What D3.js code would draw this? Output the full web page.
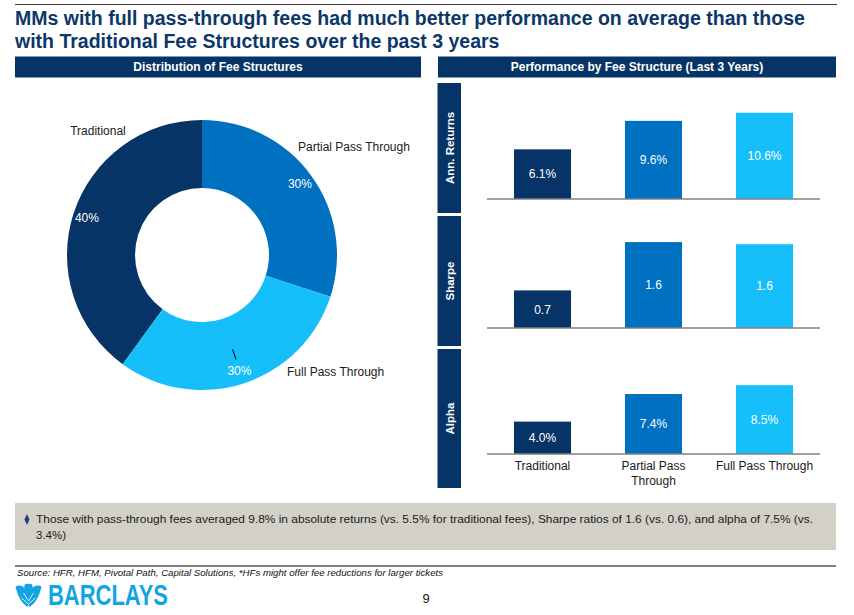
<!DOCTYPE html>
<html>
<head>
<meta charset="utf-8">
<script src="https://cdn.jsdelivr.net/npm/d3@7"></script>
<style>
  html, body { margin: 0; padding: 0; background: #ffffff; }
  svg { display: block; font-family: "Liberation Sans", Arial, sans-serif; }
</style>
</head>
<body>
<svg id="chart" width="854" height="615"></svg>
<script>
// ---------------- DATA ----------------
const categories = ["Traditional", "Partial Pass Through", "Full Pass Through"];
const shares = [40, 30, 30];                 // % of managers
const metricNames = ["Ann. Returns", "Sharpe", "Alpha"];
const annReturns = [6.1, 9.6, 10.6];          // %
const sharpe = [0.70, 1.60, 1.56];
const alpha = [4.0, 7.4, 8.5];                // %
const titleLines = [
  "MMs with full pass-through fees had much better performance on average than those",
  "with Traditional Fee Structures over the past 3 years"
];
const leftHeader = "Distribution of Fee Structures";
const rightHeader = "Performance by Fee Structure (Last 3 Years)";
const bulletLines = [
  "Those with pass-through fees averaged 9.8% in absolute returns (vs. 5.5% for traditional fees), Sharpe ratios of 1.6 (vs. 0.6), and alpha of 7.5% (vs.",
  "3.4%)"
];
const sourceText = "Source: HFR, HFM, Pivotal Path, Capital Solutions, *HFs might offer fee reductions for larger tickets";
const pageNumber = "9";

// ---------------- STYLE ----------------
const navy = "#063466";
const colors = ["#063466", "#0070c0", "#16bff9"];
const color = d3.scaleOrdinal().domain(categories).range(colors);

const svg = d3.select("#chart");

// top rule
svg.append("line").attr("x1", 15).attr("x2", 837).attr("y1", 4.5).attr("y2", 4.5)
  .attr("stroke", "#3a3a3a").attr("stroke-width", 1);

// title
svg.append("g").selectAll("text").data(titleLines).join("text")
  .attr("x", 15).attr("y", (d, i) => 25 + i * 22.5)
  .attr("font-size", 19.5).attr("font-weight", "bold").attr("fill", "#0c3768")
  .text(d => d);

// section headers
const headers = [
  { text: leftHeader, x0: 15, x1: 421 },
  { text: rightHeader, x0: 438, x1: 836 }
];
const hg = svg.append("g").selectAll("g").data(headers).join("g");
hg.append("rect").attr("x", d => d.x0).attr("y", 56.5).attr("width", d => d.x1 - d.x0).attr("height", 21)
  .attr("fill", navy);
hg.append("text").attr("x", d => (d.x0 + d.x1) / 2).attr("y", 71.2)
  .attr("text-anchor", "middle").attr("font-size", 12).attr("font-weight", "bold").attr("fill", "#fff")
  .text(d => d.text);

// ---------------- DONUT ----------------
const cx = 202, cy = 255, rOuter = 135, rInner = 67;
const pieData = categories.map((c, i) => ({ cat: c, value: shares[i] }));
const startA = -2 * Math.PI * shares[0] / 100;
const pie = d3.pie().value(d => d.value).sort(null).startAngle(startA).endAngle(startA + 2 * Math.PI);
const arcs = pie(pieData);
const arc = d3.arc().innerRadius(rInner).outerRadius(rOuter);
const labelArc = d3.arc().innerRadius(121).outerRadius(121);

const dg = svg.append("g").attr("transform", `translate(${cx},${cy})`);
dg.selectAll("path").data(arcs).join("path")
  .attr("d", arc).attr("fill", d => color(d.data.cat));

dg.selectAll("text.pct").data(arcs).join("text").attr("class", "pct")
  .attr("x", d => labelArc.centroid(d)[0]).attr("y", d => labelArc.centroid(d)[1] + 4.5)
  .attr("text-anchor", "middle").attr("font-size", 12).attr("fill", "#fff")
  .text(d => d.data.value + "%");

// category label placement (layout, relative to donut centre)
const catPos = {
  "Traditional": [-104, -120, "middle"],
  "Partial Pass Through": [96, -104, "start"],
  "Full Pass Through": [85, 121, "start"]
};
dg.selectAll("text.cat").data(arcs).join("text").attr("class", "cat")
  .attr("x", d => catPos[d.data.cat][0])
  .attr("y", d => catPos[d.data.cat][1])
  .attr("text-anchor", d => catPos[d.data.cat][2])
  .attr("font-size", 12).attr("fill", "#1a1a1a")
  .text(d => d.data.cat);

// leader line for Full Pass Through
const full = arcs[2];
const fa = (full.startAngle + full.endAngle) / 2;
dg.append("line")
  .attr("x1", Math.sin(fa) * 99).attr("y1", -Math.cos(fa) * 99)
  .attr("x2", Math.sin(fa) * 110).attr("y2", -Math.cos(fa) * 110)
  .attr("stroke", "#000").attr("stroke-width", 1);

// ---------------- BAR PANELS ----------------
const panels = [
  { name: metricNames[0], values: annReturns, fmt: v => d3.format(".1f")(v) + "%", boxTop: 83, boxBot: 213, base: 199, pxPerUnit: 8.14 },
  { name: metricNames[1], values: sharpe, fmt: v => d3.format(".1f")(v), boxTop: 216, boxBot: 346, base: 328, pxPerUnit: 53.7 },
  { name: metricNames[2], values: alpha, fmt: v => d3.format(".1f")(v) + "%", boxTop: 349, boxBot: 488, base: 454, pxPerUnit: 8.1 }
];
const x = d3.scaleBand().domain(categories).range([487, 820]).paddingInner(0.486).paddingOuter(0.243);

panels.forEach((p, pi) => {
  const y = d3.scaleLinear().domain([0, (p.base - p.boxTop) / p.pxPerUnit]).range([p.base, p.boxTop]);
  const g = svg.append("g");
  // side label box
  g.append("rect").attr("x", 437.5).attr("y", p.boxTop).attr("width", 23.5).attr("height", p.boxBot - p.boxTop)
    .attr("fill", navy);
  g.append("text")
    .attr("transform", `translate(453.5,${(p.boxTop + p.boxBot) / 2}) rotate(-90)`)
    .attr("text-anchor", "middle").attr("font-size", 11.5).attr("font-weight", "bold").attr("fill", "#fff")
    .text(p.name);
  // bars
  const rows = categories.map((c, i) => ({ cat: c, v: p.values[i] }));
  g.selectAll("rect.bar").data(rows).join("rect").attr("class", "bar")
    .attr("x", d => x(d.cat)).attr("width", x.bandwidth())
    .attr("y", d => y(d.v)).attr("height", d => y(0) - y(d.v))
    .attr("fill", d => color(d.cat));
  g.selectAll("text.val").data(rows).join("text").attr("class", "val")
    .attr("x", d => x(d.cat) + x.bandwidth() / 2)
    .attr("y", d => (y(d.v) + y(0)) / 2 + 4.3)
    .attr("text-anchor", "middle").attr("font-size", 12).attr("fill", "#fff")
    .text(d => p.fmt(d.v));
  // baseline axis
  const axis = g.append("g").attr("transform", `translate(0,${y(0)})`)
    .call(d3.axisBottom(x).tickSize(0).tickFormat(""));
  axis.select(".domain").attr("stroke", "#808080").attr("stroke-width", 1.6)
    .attr("d", `M487,0H820`);
  if (pi === panels.length - 1) {
    const ax2 = g.append("g").attr("transform", `translate(0,${y(0)})`)
      .call(d3.axisBottom(x).tickSize(0).tickPadding(0));
    ax2.select(".domain").remove();
    ax2.selectAll(".tick text").attr("font-size", 12).attr("fill", "#1a1a1a")
      .attr("font-family", '"Liberation Sans", Arial, sans-serif')
      .attr("dy", null).attr("y", 16)
      .each(function () { wrap(d3.select(this), 100, 16, 15); });
  }
});

function wrap(textSel, maxW, y0, lh) {
  const words = textSel.text().split(/\s+/);
  textSel.text(null);
  let line = [];
  let lineNo = 0;
  let tspan = textSel.append("tspan").attr("x", 0).attr("y", y0);
  words.forEach(w => {
    line.push(w);
    tspan.text(line.join(" "));
    if (tspan.node().getComputedTextLength() > maxW && line.length > 1) {
      line.pop();
      tspan.text(line.join(" "));
      line = [w];
      lineNo++;
      tspan = textSel.append("tspan").attr("x", 0).attr("y", y0 + lineNo * lh).text(w);
    }
  });
}

// ---------------- BOTTOM NOTE BOX ----------------
svg.append("rect").attr("x", 15).attr("y", 503).attr("width", 821).attr("height", 47).attr("fill", "#d3d0c8");
svg.append("path").attr("d", d3.symbol().type(d3.symbolDiamond).size(34)())
  .attr("transform", "translate(27,519.5) scale(0.8,1)").attr("fill", "#1f3f7a");
svg.append("g").selectAll("text").data(bulletLines).join("text")
  .attr("x", 36).attr("y", (d, i) => 523 + i * 16)
  .attr("font-size", 11.5).attr("fill", "#1a1a1a")
  .attr("textLength", (d, i) => i === 0 ? 777 : null)
  .attr("lengthAdjust", "spacingAndGlyphs")
  .text(d => d);

// bottom rule & source
svg.append("line").attr("x1", 15).attr("x2", 836).attr("y1", 566).attr("y2", 566)
  .attr("stroke", "#808080").attr("stroke-width", 2);
svg.append("text").attr("x", 17).attr("y", 576).attr("font-size", 9.5).attr("font-style", "italic")
  .attr("fill", "#111").attr("textLength", 426).attr("lengthAdjust", "spacingAndGlyphs")
  .text(sourceText);

// page number
svg.append("text").attr("x", 426).attr("y", 603).attr("text-anchor", "middle")
  .attr("font-size", 13).attr("fill", "#111").text(pageNumber);

// Barclays logo
const logoBlue = "#12a4e3";
const eagle = svg.append("g").attr("transform", "translate(28.5,595)").attr("fill", logoBlue);
eagle.append("path").attr("d",
  "M0,-11 C3,-12 5,-10 4,-7 C7,-10 11,-10 13,-8 C12,-5 11,-1 9,3 C7,7 4,10 1,12 L0,10 L-1,12 C-4,10 -7,7 -9,3 C-11,-1 -12,-5 -13,-8 C-11,-10 -7,-10 -4,-7 C-5,-10 -3,-12 0,-11 Z");
eagle.append("path").attr("d", "M-5,-2 L0,6 L5,-2 M-7,3 L0,9 L7,3").attr("stroke", "#fff").attr("stroke-width", 0.8).attr("fill", "none");
svg.append("text").attr("x", 48).attr("y", 605).attr("font-size", 29).attr("font-weight", "bold")
  .attr("fill", logoBlue).attr("textLength", 120).attr("lengthAdjust", "spacingAndGlyphs")
  .text("BARCLAYS");
</script>
</body>
</html>
